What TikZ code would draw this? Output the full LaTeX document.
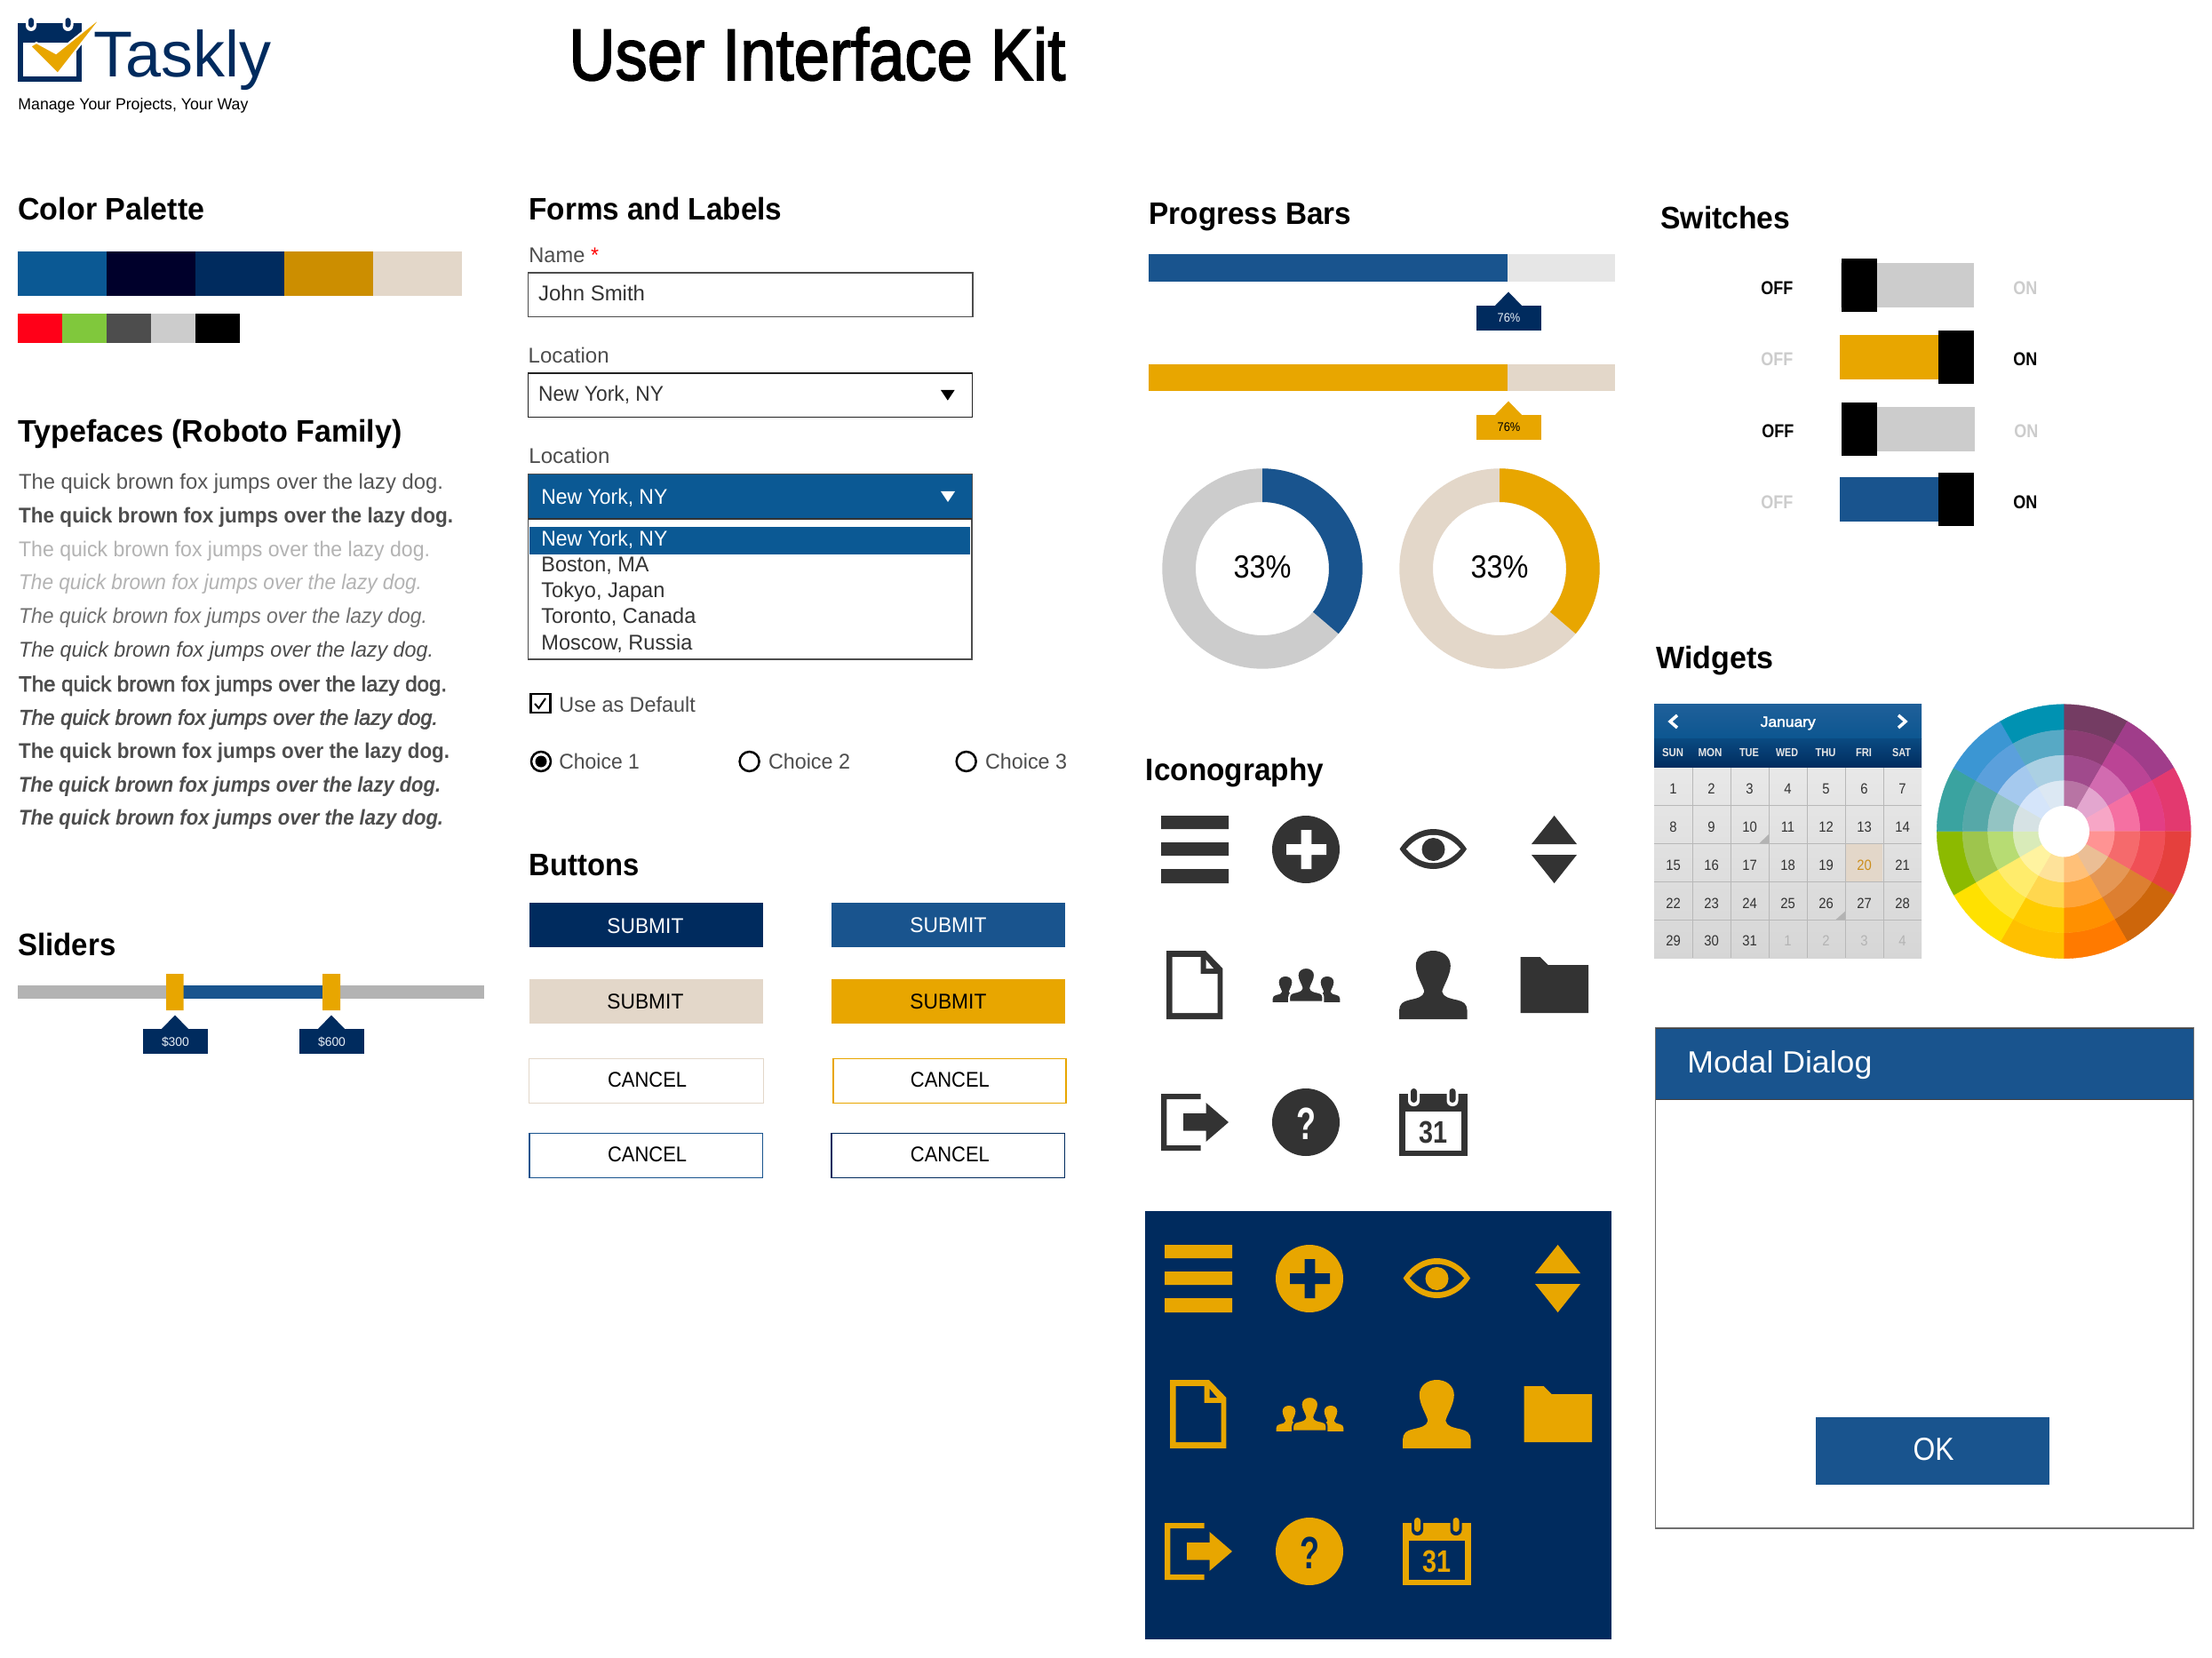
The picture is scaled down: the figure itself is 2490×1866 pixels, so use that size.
\documentclass[tikz,border=0pt]{standalone}
\usepackage{fontspec}
\setmainfont{Liberation Sans}
\newfontfamily\medf[FakeBold=2.2]{Liberation Sans}
\newfontfamily\narrowf[FakeStretch=0.9]{Liberation Sans}
\definecolor{navy}{HTML}{002B5E}
\definecolor{bluebar}{HTML}{19548E}
\definecolor{palblue}{HTML}{0B5994}
\definecolor{gold}{HTML}{E8A600}
\definecolor{sand}{HTML}{E3D7C9}
\definecolor{inkdark}{HTML}{333333}
\definecolor{inkmid}{HTML}{4D4D4D}
\definecolor{lite}{HTML}{CCCCCC}
\definecolor{palgold}{HTML}{CC8E1C}
\definecolor{mutedday}{HTML}{B3B3B3}
\definecolor{c00002B}{HTML}{00002B}
\definecolor{cCC8E00}{HTML}{CC8E00}
\definecolor{cFF0018}{HTML}{FF0018}
\definecolor{c80C83C}{HTML}{80C83C}
\definecolor{cE6EEF5}{HTML}{E6EEF5}
\definecolor{c555555}{HTML}{555555}
\definecolor{c707070}{HTML}{707070}
\definecolor{c222222}{HTML}{222222}
\definecolor{cE6E6E6}{HTML}{E6E6E6}
\definecolor{c20609A}{HTML}{20609A}
\definecolor{c0C5690}{HTML}{0C5690}
\definecolor{c0A4B82}{HTML}{0A4B82}
\definecolor{cE8E8E8}{HTML}{E8E8E8}
\definecolor{cD6D6D6}{HTML}{D6D6D6}
\definecolor{cB8B8B8}{HTML}{B8B8B8}
\definecolor{c404040}{HTML}{404040}
\newcounter{tn}
\newsavebox\fbx
\newcommand\fitbox[2]{\sbox\fbx{#2}\ifdim #1pt=0pt \usebox\fbx\else\edef\fw{\the\wd\fbx}\pgfmathsetmacro\fr{#1*0.5/\fw}\scalebox{\fr}[1]{\usebox\fbx}\fi}
% [anchor]{x}{baseline y}{size pt}{font}{colour}{width px, 0 = natural}{text}
\newcommand\tx[8][base west]{\stepcounter{tn}\node[anchor=#1,inner sep=0pt,text=#6] (t\arabic{tn}) at (#2,#3) {\fontsize{#4}{#4}\selectfont #5\fitbox{#7}{#8}};}
\newcommand\heading[4]{\tx{#1}{#2}{17.5}{\bfseries}{black}{#3}{#4}}
\newcommand\tagbox[3]{\fill[#3] (#1-36.5,#2) rectangle (#1+36.5,#2+28);\fill[#3] (#1-15,#2) -- (#1,#2-15.5) -- (#1+15,#2) -- cycle;}
\newcommand\wring[4]{\definecolor{wc}{HTML}{#4}\pgfmathsetmacro\ae{#1-30}\filldraw[wc,line width=0.2pt] (#1:#2) arc[start angle=#1,end angle=\ae,radius=#2] -- (\ae:#3) arc[start angle=\ae,end angle=#1,radius=#3] -- cycle;}
\newcommand\wsec[5]{\wring{#1}{143}{114}{#2}\wring{#1}{114}{85.6}{#3}\wring{#1}{85.6}{57}{#4}\wring{#1}{57}{28.7}{#5}}
\newcommand\persn{(-38.25,77) -- (-38.25,67) .. controls (-38,60) and (-34,57) .. (-27,55.5) .. controls (-18,53.5) and (-11,52) .. (-10,46) .. controls (-11,40) and (-19.5,28) .. (-19.5,17) .. controls (-19.5,6) and (-10,0) .. (0,0) .. controls (10,0) and (19.5,6) .. (19.5,17) .. controls (19.5,28) and (11,40) .. (10,46) .. controls (11,52) and (18,53.5) .. (27,55.5) .. controls (34,57) and (38,60) .. (38.25,67) -- (38.25,77) -- cycle}
\newcommand\donut[3]{\begin{scope}[shift={(#1,640)},y=0.5pt]
\fill[even odd rule,#2] (0,0) circle[radius=112.7] (0,0) circle[radius=75];
\fill[#3] (90:112.7) arc[start angle=90,end angle=-40.5,radius=112.7] -- (-40.5:75) arc[start angle=-40.5,end angle=90,radius=75] -- cycle;
\end{scope}
\tx[base]{#1}{650.7}{18}{}{black}{65}{33\%}}
\newcommand\iconset[2]{%
 \fill[#1] (1307,918) rectangle (1383,933) (1307,948) rectangle (1383,963) (1307,978) rectangle (1383,994);
 \fill[#1] (1470,956) circle[radius=38];
 \fill[#2] (1448,950) rectangle (1493,962) (1464.6,934) rectangle (1476.4,978);
 \fill[#1] (1575.6,955.5) .. controls (1595,925.5) and (1632,925.5) .. (1651,955.5) .. controls (1632,985.5) and (1595,985.5) .. (1575.6,955.5) -- cycle;
 \fill[#2] (1583,955.5) .. controls (1600,934.5) and (1627,934.5) .. (1644,955.5) .. controls (1627,976.5) and (1600,976.5) .. (1583,955.5) -- cycle;
 \fill[#1] (1613.5,956) circle[radius=13];
 \fill[#1] (1749.6,918) -- (1775,950) -- (1724,950) -- cycle (1724,962) -- (1775,962) -- (1749.6,994) -- cycle;
 \fill[#1] (1313,1070) -- (1357,1070) -- (1376.4,1090) -- (1376.4,1147) -- (1313,1147) -- cycle;
 \fill[#2] (1319.5,1077) -- (1351.5,1077) -- (1351.5,1096) -- (1370.5,1096) -- (1370.5,1140) -- (1319.5,1140) -- cycle;
 \fill[#2] (1357.5,1080) -- (1366,1090) -- (1357.5,1090) -- cycle;
 \begin{scope}[shift={(1447,1099)},scale=0.375]\fill[#1] \persn;\end{scope}
 \begin{scope}[shift={(1494,1099)},scale=0.375]\fill[#1] \persn;\end{scope}
 \begin{scope}[shift={(1470.3,1089)},scale=0.5]\filldraw[fill=#1,draw=#2,line width=1pt] \persn;\end{scope}
 \begin{scope}[shift={(1613.3,1070)}]\fill[#1] \persn;\end{scope}
 \fill[#1] (1711.6,1077) -- (1733.7,1077) -- (1742.5,1086) -- (1788,1086) -- (1788,1140) -- (1711.6,1140) -- cycle;
 \fill[#1] (1307,1231) rectangle (1351.5,1237) (1307,1231) rectangle (1313.3,1295) (1307,1289) rectangle (1351.5,1295);
 \fill[#1] (1332,1253) -- (1357.5,1253) -- (1357.5,1241) -- (1383,1263) -- (1357.5,1285) -- (1357.5,1272.7) -- (1332,1272.7) -- cycle;
 \fill[#1] (1470,1263) circle[radius=38];
 \tx[base]{1470}{1282}{25.5}{\bfseries}{#2}{22}{?}
 \fill[#1] (1575,1231) rectangle (1651.5,1301);
 \fill[#2] (1581.6,1251) rectangle (1645,1295);
 \fill[#2,rounded corners=3pt] (1585,1220) rectangle (1598,1245) (1628.5,1220) rectangle (1641.5,1245);
 \fill[#1,rounded corners=1.7pt] (1588,1225) rectangle (1595,1241) (1631.5,1225) rectangle (1638.5,1241);
 \tx[base]{1613}{1286}{17.5}{\bfseries}{#1}{32}{31}
}
\tikzset{
 fieldbox/.style={fill=white,draw=inkmid,line width=0.75pt},
 ctl/.style={draw=black,line width=1.25pt},
 outline/.style={fill=white,line width=0.6pt}
}
\begin{document}
\begin{tikzpicture}[x=0.5pt,y=-0.5pt]
\useasboundingbox (0,0) rectangle (2490,1866);
\fill[white] (0,0) rectangle (2490,1866);
% Logo
\fill[navy] (20,26) rectangle (92,92);
\fill[white] (26,48) rectangle (86,86);
\fill[white,rounded corners=3pt] (29,20) rectangle (41,35) (70.5,20) rectangle (82.5,35);
\fill[navy,rounded corners=1.6pt] (32,20) rectangle (38,31) (73.5,20) rectangle (79.5,31);
\filldraw[fill=gold,draw=white,line width=1pt] (111,24) -- (65,83) -- (34,52) -- (41,48) -- (63,60) -- (109,23) -- cycle;
\tx{105}{87}{36.5}{}{navy}{200}{Taskly}
\tx{20}{123.3}{9}{}{black}{259}{Manage Your Projects, Your Way}
\tx{640}{90}{41}{\medf}{black}{559}{User Interface Kit}
% Palette
\heading{20}{248}{210}{Color Palette}
\fill[palblue] (20,283) rectangle (120,333);
\fill[c00002B] (120,283) rectangle (220,333);
\fill[navy] (220,283) rectangle (320,333);
\fill[cCC8E00] (320,283) rectangle (420,333);
\fill[sand] (420,283) rectangle (520,333);
\fill[cFF0018] (20,353) rectangle (70,386);
\fill[c80C83C] (70,353) rectangle (120,386);
\fill[inkmid] (120,353) rectangle (170,386);
\fill[lite] (170,353) rectangle (220,386);
\fill[black] (220,353) rectangle (270,386);
% Typefaces
\heading{20}{498}{432}{Typefaces (Roboto Family)}
\tx{20.7}{551}{12}{}{c555555}{478}{The quick brown fox jumps over the lazy dog.}
\tx{20.7}{588.7}{12}{\bfseries}{inkmid}{489}{The quick brown fox jumps over the lazy dog.}
\tx{20.7}{626.7}{12}{}{mutedday}{463}{The quick brown fox jumps over the lazy dog.}
\tx{20.7}{664}{12}{\itshape}{mutedday}{454}{The quick brown fox jumps over the lazy dog.}
\tx{20.7}{702}{12}{\itshape}{c707070}{460}{The quick brown fox jumps over the lazy dog.}
\tx{20.7}{740}{12}{\itshape}{inkmid}{467}{The quick brown fox jumps over the lazy dog.}
\tx{20.7}{778}{12}{\medf}{inkmid}{482}{The quick brown fox jumps over the lazy dog.}
\tx{20.7}{815.7}{12}{\medf\itshape}{inkmid}{472}{The quick brown fox jumps over the lazy dog.}
\tx{20.7}{853.7}{12}{\bfseries}{inkmid}{485}{The quick brown fox jumps over the lazy dog.}
\tx{20.7}{891}{12}{\bfseries\itshape}{inkmid}{475}{The quick brown fox jumps over the lazy dog.}
\tx{20.7}{928.7}{12}{\bfseries\itshape}{inkmid}{478}{The quick brown fox jumps over the lazy dog.}
% Sliders
\heading{20}{1075}{110}{Sliders}
\fill[mutedday] (20,1109) rectangle (545,1124);
\fill[bluebar] (206,1109) rectangle (363,1124);
\fill[gold] (187,1096) rectangle (206.5,1137) (363,1096) rectangle (383,1137);
\tagbox{197}{1158}{navy}
\tagbox{373}{1158}{navy}
\tx[base]{197.5}{1177}{7}{}{cE6EEF5}{31}{\$300}
\tx[base]{373.5}{1177}{7}{}{cE6EEF5}{31}{\$600}
% Forms
\heading{595}{248}{285}{Forms and Labels}
\tx{595}{296}{12}{}{inkmid}{63}{Name}
\tx{664.6}{296}{12}{}{red}{9}{*}
\draw[fieldbox] (594.5,307) rectangle (1095,356.5);
\tx{605.7}{338.3}{12}{}{inkdark}{120}{John Smith}
\tx{594.3}{409}{12}{}{inkmid}{91}{Location}
\draw[fieldbox,draw=c222222] (594.5,420) rectangle (1094.5,469.5);
\tx{605.7}{451.7}{12}{}{inkdark}{141}{New York, NY}
\fill[black] (1059,439) -- (1074.6,439) -- (1066.8,450.7) -- cycle;
\tx{595}{521.7}{12}{}{inkmid}{91}{Location}
\draw[fieldbox] (594.5,534) rectangle (1094,742);
\fill[palblue] (594.5,534) rectangle (1094,584);
\draw[inkdark,line width=0.75pt] (594.5,584) -- (1094,584);
\tx{609}{568}{12}{}{white}{142}{New York, NY}
\fill[white] (1059,553) -- (1075,553) -- (1067,565) -- cycle;
\fill[palblue] (596,593) rectangle (1092,624);
\tx{609}{615}{12}{}{white}{142}{New York, NY}
\tx{609}{644}{12}{}{inkdark}{121}{Boston, MA}
\tx{609}{673}{12}{}{inkdark}{139}{Tokyo, Japan}
\tx{609}{702}{12}{}{inkdark}{174}{Toronto, Canada}
\tx{609}{731}{12}{}{inkdark}{170}{Moscow, Russia}
\draw[ctl] (597.5,781) rectangle (619.5,802);
\draw[black,line width=1pt] (602,792) -- (606.5,797) -- (614,786);
\tx{629}{801}{12}{}{inkmid}{153.5}{Use as Default}
\draw[ctl] (609,857) circle[radius=11];
\fill[black] (609,857) circle[radius=6.5];
\tx{629}{865}{12}{}{inkmid}{90.5}{Choice 1}
\draw[ctl] (843.6,857) circle[radius=11];
\tx{864.6}{865}{12}{}{inkmid}{92}{Choice 2}
\draw[ctl] (1087.7,857) circle[radius=11];
\tx{1108.7}{865}{12}{}{inkmid}{92}{Choice 3}
% Buttons
\heading{595}{985}{124}{Buttons}
\fill[navy] (596,1016) rectangle (859,1066);
\tx{683}{1050.3}{12}{}{white}{86}{SUBMIT}
\fill[bluebar] (935.5,1016) rectangle (1199,1066);
\tx{1024}{1049}{12}{}{white}{86}{SUBMIT}
\fill[sand] (596,1101.7) rectangle (859,1151.7);
\tx{683}{1135}{12}{}{black}{86}{SUBMIT}
\fill[gold] (935.5,1101.7) rectangle (1199,1151.7);
\tx{1024}{1135}{12}{}{black}{86}{SUBMIT}
\draw[outline,draw=sand] (595.2,1191.5) rectangle (859.5,1241.2);
\tx{683.7}{1223}{12}{}{black}{89}{CANCEL}
\draw[outline,draw=gold] (938,1191.5) rectangle (1200,1241.2);
\tx{1024.5}{1223}{12}{}{black}{89}{CANCEL}
\draw[outline,draw=bluebar] (596,1275.5) rectangle (858.5,1325.2);
\tx{683.7}{1307}{12}{}{black}{89}{CANCEL}
\draw[outline,draw=navy] (936,1275.5) rectangle (1198.5,1325.2);
\tx{1024.5}{1307}{12}{}{black}{89}{CANCEL}
% Progress bars
\heading{1293}{252.5}{228}{Progress Bars}
\fill[cE6E6E6] (1292.5,286) rectangle (1818,317);
\fill[bluebar] (1292.5,286) rectangle (1697,317);
\tagbox{1698}{344}{navy}
\tx[base]{1698.5}{362.7}{7}{}{cE6EEF5}{25.7}{76\%}
\fill[sand] (1292.5,410) rectangle (1818,440);
\fill[gold] (1292.5,410) rectangle (1697,440);
\tagbox{1698}{467}{gold}
\tx[base]{1698.5}{485.7}{7}{}{black}{25.7}{76\%}
% Donuts
\donut{1421}{lite}{bluebar}
\donut{1688}{sand}{gold}
% Iconography
\heading{1289.5}{878}{200}{Iconography}
\iconset{inkdark}{white}
\fill[navy] (1288.7,1363) rectangle (1814,1845);
\begin{scope}[shift={(4,483)}]\iconset{gold}{navy}\end{scope}
% Switches
\heading{1869}{258}{146}{Switches}
\tx{1982}{332}{10.5}{\bfseries}{black}{36}{OFF}
\fill[lite] (2072,296) rectangle (2222,346);
\fill[black] (2073,291) rectangle (2113,351);
\tx{2266}{332}{10.5}{\bfseries}{lite}{27}{ON}
\tx{1982}{412}{10.5}{\bfseries}{lite}{36}{OFF}
\fill[gold] (2071,377) rectangle (2182,427);
\fill[black] (2182,372) rectangle (2222,432);
\tx{2266}{412}{10.5}{\bfseries}{black}{27}{ON}
\tx{1983}{493}{10.5}{\bfseries}{black}{36}{OFF}
\fill[lite] (2073,458) rectangle (2223,508);
\fill[black] (2073,453) rectangle (2113,513);
\tx{2267}{493}{10.5}{\bfseries}{lite}{27}{ON}
\tx{1982}{573}{10.5}{\bfseries}{lite}{36}{OFF}
\fill[bluebar] (2071,537) rectangle (2182,587);
\fill[black] (2182,532) rectangle (2222,592);
\tx{2266}{573}{10.5}{\bfseries}{black}{27}{ON}
% Widgets
\heading{1864}{752}{132}{Widgets}
\shade[top color=c20609A,bottom color=c0C5690] (1862,792) rectangle (2163,831);
\shade[top color=c0A4B82,bottom color=navy] (1862,831) rectangle (2163,864);
\shade[top color=cE8E8E8,bottom color=cD6D6D6] (1862,864) rectangle (2163,1078);
\fill[sand] (2078,950) rectangle (2119,992);
\draw[cB8B8B8,line width=0.5pt] (1905,864) -- (1905,1078) (1948,864) -- (1948,1078) (1991,864) -- (1991,1078) (2034,864) -- (2034,1078) (2077,864) -- (2077,1078) (2120,864) -- (2120,1078)
 (1862,906) -- (2163,906) (1862,949) -- (2163,949) (1862,992) -- (2163,992) (1862,1035) -- (2163,1035);
\fill[mutedday] (1991,939) -- (1991,949) -- (1980.5,949) -- cycle;
\fill[mutedday] (2077,1025.7) -- (2077,1035) -- (2066.5,1035) -- cycle;
\draw[white,line width=1.75pt] (1888,805) -- (1880,812) -- (1888,819);
\draw[white,line width=1.75pt] (2137,805) -- (2145,812) -- (2137,819);
\tx[base]{2012.7}{818}{8.25}{\medf}{white}{62}{January}
\tx[base]{1883}{851.7}{6.5}{\bfseries}{cE6E6E6}{24}{SUN}
\tx[base]{1925}{851.7}{6.5}{\bfseries}{cE6E6E6}{27}{MON}
\tx[base]{1969}{851.7}{6.5}{\bfseries}{cE6E6E6}{22}{TUE}
\tx[base]{2011.5}{851.7}{6.5}{\bfseries}{cE6E6E6}{25}{WED}
\tx[base]{2055}{851.7}{6.5}{\bfseries}{cE6E6E6}{23}{THU}
\tx[base]{2098}{851.7}{6.5}{\bfseries}{cE6E6E6}{18}{FRI}
\tx[base]{2140.5}{851.7}{6.5}{\bfseries}{cE6E6E6}{21}{SAT}
\foreach \d/\cx/\cy/\cc in {1/1883.5/893/inkdark,2/1926.5/893/inkdark,3/1969.5/893/inkdark,4/2012.5/893/inkdark,5/2055.5/893/inkdark,6/2098.5/893/inkdark,7/2141.5/893/inkdark,
 8/1883.5/936.7/inkdark,9/1926.5/936.7/inkdark,10/1969.5/936.7/inkdark,11/2012.5/936.7/inkdark,12/2055.5/936.7/inkdark,13/2098.5/936.7/inkdark,14/2141.5/936.7/inkdark,
 15/1883.5/979/inkdark,16/1926.5/979/inkdark,17/1969.5/979/inkdark,18/2012.5/979/inkdark,19/2055.5/979/inkdark,20/2098.5/979/palgold,21/2141.5/979/inkdark,
 22/1883.5/1022.7/inkdark,23/1926.5/1022.7/inkdark,24/1969.5/1022.7/inkdark,25/2012.5/1022.7/inkdark,26/2055.5/1022.7/inkdark,27/2098.5/1022.7/inkdark,28/2141.5/1022.7/inkdark,
 29/1883.5/1064/inkdark,30/1926.5/1064/inkdark,31/1969.5/1064/inkdark,1/2012.5/1064/mutedday,2/2055.5/1064/mutedday,3/2098.5/1064/mutedday,4/2141.5/1064/mutedday}
 {\tx[base]{\cx}{\cy}{8.25}{\narrowf}{\cc}{0}{\d}}
% Colour wheel
\begin{scope}[shift={(2323.2,935.7)},y=0.5pt]
\wsec{90}{743C63}{8C3D73}{A04A8C}{B874A4}
\wsec{60}{A03D8A}{BB4495}{D26BB0}{E3A6CF}
\wsec{30}{E3396F}{E33E85}{F570A2}{F7A6C6}
\wsec{0}{E5403D}{F04F56}{F56A6C}{FF9393}
\wsec{-30}{CD660B}{DD7F31}{E59755}{EBBE95}
\wsec{-60}{FF7A00}{FF9000}{FFA53A}{FFC078}
\wsec{-90}{FFC000}{FFCC00}{FFD74F}{FEE29A}
\wsec{-120}{FFE100}{FFE83A}{FFEC6C}{FFF3A0}
\wsec{-150}{8CBA00}{9EC54D}{B7DC73}{D9EBB9}
\wsec{180}{3AA3A0}{56A8A8}{93C4C3}{D6E2E4}
\wsec{150}{3B96D3}{5BA0DC}{A5C9EE}{D5E5FA}
\wsec{120}{0092B2}{57A9C5}{ABD0E3}{DCE8F3}
\fill[white] (0,0) circle[radius=28.7];
\end{scope}
% Modal
\draw[fieldbox,draw=c707070] (1863.6,1157) rectangle (2469,1720);
\fill[bluebar] (1863.6,1157) rectangle (2469,1237.3);
\draw[c404040,line width=0.5pt] (1863.6,1157) -- (2469,1157) (1863.6,1237.3) -- (2469,1237.3);
\tx{1899}{1207}{17.25}{}{white}{208}{Modal Dialog}
\fill[bluebar] (2044.4,1595) rectangle (2307,1671);
\tx[base]{2176.6}{1643}{18}{}{white}{46}{OK}
\end{tikzpicture}
\end{document}
